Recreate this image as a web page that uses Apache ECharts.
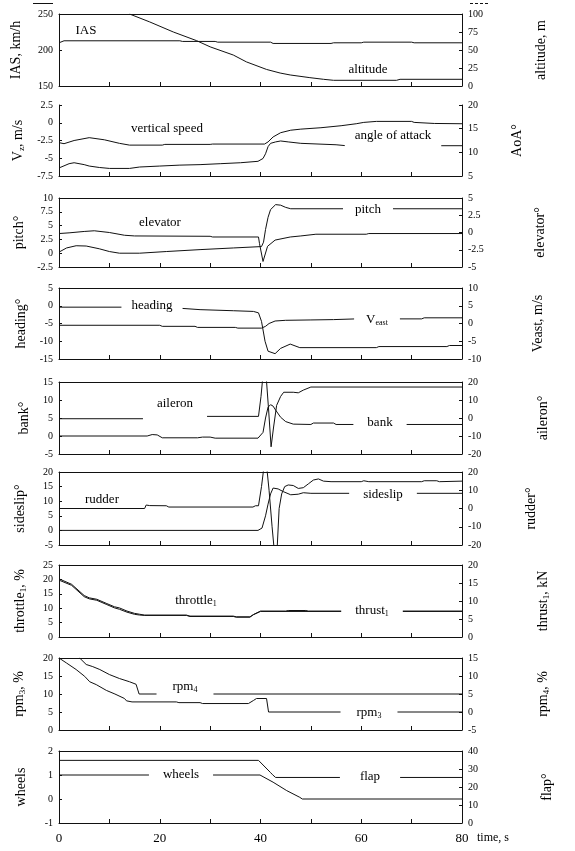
<!DOCTYPE html>
<html>
<head>
<meta charset="utf-8">
<script src="https://cdn.jsdelivr.net/npm/echarts@6/dist/echarts.min.js"></script>
<style>
html, body { margin: 0; padding: 0; background: #fff; }
#chart { width: 575px; height: 851px; }
</style>
</head>
<body>
<div id="chart"></div>
<script>
// flight record, time in s  -> [t, value]

// panel 1
var ias = [[0,210],[1,212.8],[24,212.8],[24.5,211.9],[31,211.9],[31.5,210.9],[42,210.9],[42.5,209.1],[54,209.1],[54.5,210],[60,210],[60.5,210.9],[70,210.9],[70.5,210],[80,210]];
var altitude = [[14,100],[18,89],[22.7,75],[27.3,63],[30,54.4],[34.6,43],[37.2,33.5],[41.2,23],[43.9,18],[45.9,15.3],[49.8,11.6],[52.5,9.3],[54.5,7.9],[67,7.9],[67.7,9.3],[80,9.3]];

// panel 2
var vz = [[0,-2.8],[1,-2.95],[3,-2.5],[6,-2.1],[9,-2.4],[12,-2.9],[14,-3.15],[20.5,-3.15],[21,-3.05],[30,-3.05],[30.5,-3.0],[40.8,-3.0],[41.5,-2.7],[42.5,-2.0],[44,-1.4],[46,-1.05],[48,-0.9],[52,-0.7],[56,-0.42],[59,-0.14],[60.5,0.05],[63,0.19],[70,0.19],[70.5,0.05],[74.5,-0.1],[80,-0.14]];
var aoa = [[0,6.7],[2,7.6],[3,7.8],[5,7.4],[6,7.1],[8,6.8],[10,6.6],[14,6.6],[16,6.9],[20,7.1],[24,7.3],[28,7.4],[32,7.6],[36,7.8],[39.5,8.1],[40.5,8.7],[41,9.7],[41.5,11.2],[42,11.9],[43,12.2],[44,12.4],[45.5,12.2],[48,11.9],[55,11.6],[57,11.4],[80,11.4]];

// panel 3
var pitch = [[0,0.2],[1.5,0.95],[3.4,1.35],[5.4,1.3],[8,0.8],[10,0.3],[12,0],[16,0],[21.3,0.3],[28,0.65],[34.6,0.95],[40.2,1.2],[40.6,2],[41,4.3],[41.5,6.5],[42,7.9],[43,8.8],[44,8.7],[45,8.3],[46,8.05],[80,8.05]];
var elevator = [[0,-0.15],[2,-0.05],[5,0.15],[7,0.25],[10,0],[13,-0.4],[15,-0.5],[30,-0.55],[30.5,-0.65],[39.6,-0.65],[39.8,-1.6],[40.5,-4.2],[41.4,-2.0],[42.9,-1.1],[45.9,-0.65],[48,-0.5],[51,-0.25],[61,-0.25],[61.5,-0.15],[80,-0.15]];

// panel 4
var heading = [[0,-0.4],[12.7,-0.4],[23,-0.6],[28,-1.1],[34.6,-1.4],[38.6,-1.6],[39.6,-2.0],[40.2,-4.4],[40.9,-10],[41.5,-12.8],[42.9,-13.5],[44,-12],[45.9,-10.8],[47.8,-11.8],[63,-11.8],[63.5,-11.5],[77,-11.5],[77.5,-11.2],[80,-11.2]];
var vEast = [[0,-0.5],[20,-0.5],[20.5,-0.8],[27,-0.8],[27.5,-1.1],[35,-1.1],[35.5,-1.3],[40.2,-1.3],[41,-0.8],[41.7,0],[42.9,0.7],[45,0.9],[50,1.0],[54.5,1.1],[59,1.3],[72,1.3],[72.5,1.6],[80,1.6]];

// panel 5
var bank = [[0,0],[17.5,0],[18.5,0.4],[19.5,0.3],[20.5,-0.5],[27.5,-0.5],[28.5,-0.3],[30,-0.3],[31,-0.6],[39.5,-0.6],[40.5,1],[41,5],[41.5,8],[42,8.7],[42.5,8.3],[43,7.2],[44,5.2],[45,4],[46.5,3.3],[50,3.2],[50.5,3.6],[54.5,3.6],[55,3.2],[80,3.2]];
var aileron = [[0,-0.4],[18.5,-0.4],[22,0.9],[39.6,0.9],[40.1,12],[40.5,24],[41.1,24],[41.6,5],[42.1,-16],[42.6,-5],[43.2,7],[44,12],[44.6,14.3],[46.5,14.3],[47.5,14],[48.5,15.5],[50,17.2],[80,17.2]];

// panel 6
var sideslip = [[0,0],[39.5,0],[40.3,0.8],[41,5],[41.5,9],[42,12.5],[42.5,14.5],[43.5,14.2],[44.5,13.3],[46,12.2],[47.5,12.4],[48.5,12.9],[50,12.7],[80,12.7]];
var rudder = [[0,0],[17,0],[17.3,1.9],[18,1.6],[21.3,1.5],[21.8,0.8],[38.5,0.8],[39,1.5],[39.6,1.5],[40.2,12],[40.6,21],[41.3,21],[41.7,10],[42.3,-10],[42.7,-22],[43.3,-22],[43.7,0],[44.2,8],[44.8,12],[45.5,12.9],[46.5,12.6],[47.5,11],[48.5,11.4],[49.5,13.5],[50.5,15.6],[51.5,16.2],[52.5,15],[54,14.7],[60,14.7],[60.5,15.2],[61.5,14.7],[72,14.7],[72.5,15.2],[75,15.2],[75.5,14.7],[80,15]];

// panel 7
var throttle1 = [[0,20.2],[2.5,18.3],[5,14.4],[6,13.6],[7.5,13.1],[9.5,11.6],[11,10.5],[12,10.1],[13.5,9.0],[15,8.2],[16,7.9],[17,7.6],[25.3,7.6],[26,7.25],[34.6,7.25],[35.2,7.0],[37.9,7.0],[38.6,7.8],[40,9.0],[45,9.0],[45.5,9.2],[49,9.2],[49.5,9.0],[80,9.0]];
var thrust1 = [[0,15.8],[2.5,14.35],[5,11.2],[6,10.6],[7.5,10.2],[9.5,9.0],[11,8.1],[12,7.7],[13.5,6.9],[15,6.3],[16,6.1],[17,6.0],[25.3,6.0],[26,5.7],[34.6,5.7],[35.2,5.5],[37.9,5.5],[38.6,6.2],[40,7.1],[80,7.1]];

// panel 8
var rpm3 = [[0,20],[1.5,18.6],[3.4,16.8],[5.1,14.9],[6.1,13.4],[7.4,12.6],[9.4,11],[11.1,10],[13,8.75],[13.4,8.1],[14.5,7.8],[23.3,7.8],[23.8,7.6],[28,7.6],[28.5,7.35],[37.6,7.35],[38.6,8.2],[39.2,8.75],[41.2,8.75],[41.6,5],[80,5]];
var rpm4 = [[4.1,15],[5.4,13.2],[6.7,12.6],[8.1,11.8],[10,10.4],[12,9.3],[14,8.4],[15.3,7.7],[15.6,7.6],[15.9,5],[80,5]];

// panel 9
var wheels = [[0,1],[39.9,1],[40.5,0.93],[42.5,0.7],[45.2,0.35],[47.8,0.07],[48.3,0],[80,0]];
var flap = [[0,34.8],[39.6,34.8],[42,28],[42.4,26.8],[43,25.3],[80,25.3]];

var timeTicks = [0, 20, 40, 60, 80];

var FONT = 'Liberation Serif';
var INK = '#111';

var panels = [
    {top: 14, h: 72, frame: true, lgap: 36, rgap: 72,
     l: {min: 150, max: 250, step: 50, name: 'IAS, km/h', data: ias},
     r: {min: 0, max: 100, step: 25, name: 'altitude, m', data: altitude}},
    {top: 105, h: 71, frame: false, lgap: 32, rgap: 48,
     l: {min: -7.5, max: 2.5, step: 2.5, name: '{n|V}{s|z}{n|, m/s}', data: vz},
     r: {min: 5, max: 20, step: 5, name: 'AoA°', data: aoa}},
    {top: 198, h: 69, frame: true, lgap: 30, rgap: 71,
     l: {min: -2.5, max: 10, step: 2.5, name: 'pitch°', data: pitch},
     r: {min: -5, max: 5, step: 2.5, name: 'elevator°', data: elevator}},
    {top: 288, h: 71, frame: true, lgap: 30, rgap: 69,
     l: {min: -15, max: 5, step: 5, name: 'heading°', data: heading},
     r: {min: -10, max: 10, step: 5, name: '{n|Veast, m/s}', data: vEast}},
    {top: 382, h: 72, frame: true, lgap: 28, rgap: 74,
     l: {min: -5, max: 15, step: 5, name: 'bank°', data: bank},
     r: {min: -20, max: 20, step: 10, name: 'aileron°', data: aileron}},
    {top: 472, h: 73, frame: true, lgap: 32, rgap: 62,
     l: {min: -5, max: 20, step: 5, name: 'sideslip°', data: sideslip},
     r: {min: -20, max: 20, step: 10, name: 'rudder°', data: rudder}},
    {top: 565, h: 72, frame: true, lgap: 31, rgap: 74,
     l: {min: 0, max: 25, step: 5, name: '{n|throttle}{s|1}{n|, %}', data: throttle1},
     r: {min: 0, max: 20, step: 5, name: '{n|thrust}{s|1}{n|, kN}', data: thrust1}},
    {top: 658, h: 72, frame: true, lgap: 32, rgap: 74,
     l: {min: 0, max: 20, step: 5, name: '{n|rpm}{s|3}{n|, %}', data: rpm3},
     r: {min: -5, max: 15, step: 5, name: '{n|rpm}{s|4}{n|, %}', data: rpm4}},
    {top: 751, h: 72, frame: true, lgap: 31, rgap: 78,
     l: {min: -1, max: 2, step: 1, name: 'wheels', data: wheels},
     r: {min: 0, max: 40, step: 10, name: 'flap°', data: flap}}
];

var nameRich = {
    n: {fontFamily: FONT, fontSize: 14, color: '#000'},
    s: {fontFamily: FONT, fontSize: 9, color: '#000', verticalAlign: 'bottom', padding: [6, 0, 0, 0]}
};

var grids = [], xAxes = [], yAxes = [], series = [];

panels.forEach(function (p, i) {
    var last = i === panels.length - 1;
    grids.push({left: 59, right: 113, top: p.top, height: p.h});

    // bottom time axis
    xAxes.push({
        type: 'value', gridIndex: i, min: 0, max: 80, interval: 10,
        axisLine: {show: true, onZero: false, lineStyle: {color: INK, width: 1}},
        axisTick: {show: true, inside: true, length: 4, lineStyle: {color: INK}},
        axisLabel: {
            show: last, margin: 9, color: '#000', fontFamily: FONT, fontSize: 13,
            formatter: function (v) { return timeTicks.indexOf(v) >= 0 ? String(v) : ''; }
        },
        splitLine: {show: false}
    });
    // top frame line
    xAxes.push({
        type: 'value', gridIndex: i, position: 'top', min: 0, max: 80,
        axisLine: {show: p.frame, onZero: false, lineStyle: {color: INK, width: 1}},
        axisTick: {show: false}, axisLabel: {show: false}, splitLine: {show: false}
    });

    [p.l, p.r].forEach(function (ax, k) {
        yAxes.push({
            type: 'value', gridIndex: i, position: k ? 'right' : 'left',
            min: ax.min, max: ax.max, interval: ax.step,
            name: ax.name, nameLocation: 'middle', nameRotate: 90,
            nameGap: k ? p.rgap : p.lgap,
            nameTextStyle: {fontFamily: FONT, fontSize: 14, color: '#000', rich: nameRich},
            axisLine: {show: true, onZero: false, lineStyle: {color: INK, width: 1}},
            axisTick: {show: true, inside: true, length: 3, lineStyle: {color: INK}},
            axisLabel: {color: '#000', fontFamily: FONT, fontSize: 10, margin: 6},
            splitLine: {show: false}
        });
        series.push({
            type: 'line', xAxisIndex: i * 2, yAxisIndex: i * 2 + k,
            data: ax.data, symbol: 'none', clip: true, z: 3,
            lineStyle: {color: INK, width: 1}
        });
    });
});

// inline curve labels (white boxes also make the gaps in the lines)
var tagRich = {
    n: {fontFamily: FONT, fontSize: 13, fill: '#000'},
    s: {fontFamily: FONT, fontSize: 8, fill: '#000', verticalAlign: 'bottom', padding: [6, 0, 0, 0]}
};
var tags = [
    {t: 'IAS', x: 86, y: 31, pad: [1, 2, 1, 2]},
    {t: 'altitude', x: 368, y: 70, pad: [1, 2, 1, 2]},
    {t: 'vertical speed', x: 167, y: 129, pad: [1, 2, 1, 2]},
    {t: 'angle of attack', x: 393, y: 139, pad: [2, 10, 9, 10]},
    {t: 'elevator', x: 160, y: 223, pad: [1, 2, 1, 2]},
    {t: 'pitch', x: 368, y: 210, pad: [3, 12, 3, 12]},
    {t: 'heading', x: 152, y: 306, pad: [3, 10, 3, 10]},
    {t: '{n|V}{s|east}', x: 377, y: 320, pad: [3, 12, 3, 12]},
    {t: 'aileron', x: 175, y: 409, pad: [2, 14, 12, 14]},
    {t: 'bank', x: 380, y: 423, pad: [3, 14, 3, 14]},
    {t: 'rudder', x: 102, y: 500, pad: [1, 2, 1, 2]},
    {t: 'sideslip', x: 383, y: 495, pad: [3, 14, 3, 14]},
    {t: '{n|throttle}{s|1}', x: 196, y: 601, pad: [1, 2, 1, 2]},
    {t: '{n|thrust}{s|1}', x: 372, y: 611, pad: [3, 14, 3, 14]},
    {t: '{n|rpm}{s|4}', x: 185, y: 689, pad: [2, 16, 6, 16]},
    {t: '{n|rpm}{s|3}', x: 369, y: 713, pad: [2, 16, 3, 16]},
    {t: 'wheels', x: 181, y: 775, pad: [3, 14, 3, 14]},
    {t: 'flap', x: 370, y: 777, pad: [3, 20, 3, 20]}
];

var graphics = tags.map(function (g) {
    return {
        type: 'text', z: 100,
        style: {
            text: g.t.indexOf('{') === 0 ? g.t : '{n|' + g.t + '}',
            x: g.x, y: g.y, align: 'center', verticalAlign: 'middle',
            rich: tagRich, backgroundColor: '#fff', padding: g.pad
        }
    };
});
graphics.push({
    type: 'text', z: 100,
    style: {text: 'time, s', x: 477, y: 838, align: 'left', verticalAlign: 'middle',
            font: '12px "Liberation Serif"', fill: '#000'}
});
// crop marks left over at the top edge
graphics.push({type: 'line', shape: {x1: 33, y1: 3.5, x2: 53, y2: 3.5}, style: {stroke: INK, lineWidth: 1}});
graphics.push({type: 'line', shape: {x1: 470, y1: 3.5, x2: 488, y2: 3.5}, style: {stroke: INK, lineWidth: 1, lineDash: [3, 2]}});

var chart = echarts.init(document.getElementById('chart'));
chart.setOption({
    animation: false,
    backgroundColor: '#fff',
    grid: grids,
    xAxis: xAxes,
    yAxis: yAxes,
    series: series,
    graphic: graphics
});
</script>
</body>
</html>
